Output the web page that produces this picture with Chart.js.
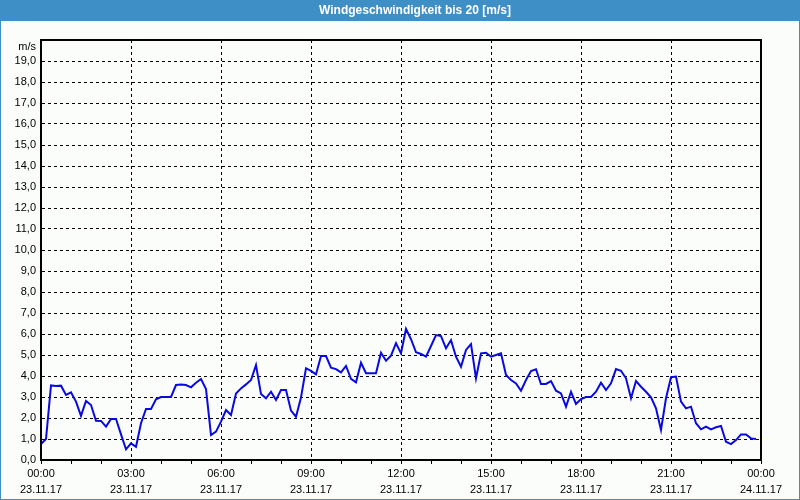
<!DOCTYPE html>
<html><head><meta charset="utf-8">
<script src="https://cdn.jsdelivr.net/npm/chart.js@4/dist/chart.umd.min.js"></script>
<style>html,body{margin:0;padding:0;background:#fbfdfb;}canvas{display:block;}</style>
</head><body>
<canvas id="c" width="800" height="500"></canvas>
<script>
const chartTitle = 'Windgeschwindigkeit bis 20 [m/s]';
const unitLabel = 'm/s';
const stepHours = 1 / 6; // 10-minute samples
const windSpeed = [
  0.76, 1.0, 3.55, 3.52, 3.54, 3.1, 3.22, 2.78, 2.1, 2.81,
  2.62, 1.87, 1.86, 1.59, 1.95, 1.95, 1.22, 0.51, 0.79, 0.63,
  1.75, 2.43, 2.43, 2.89, 3.0, 3.0, 3.0, 3.57, 3.6, 3.57,
  3.46, 3.68, 3.86, 3.38, 1.19, 1.35, 1.83, 2.38, 2.14, 3.17,
  3.41, 3.6, 3.81, 4.52, 3.14, 2.94, 3.25, 2.86, 3.33, 3.33,
  2.35, 2.06, 2.98, 4.37, 4.24, 4.08, 4.95, 4.95, 4.4, 4.33,
  4.17, 4.48, 3.86, 3.7, 4.63, 4.13, 4.13, 4.13, 5.11, 4.73,
  4.97, 5.56, 5.08, 6.24, 5.75, 5.13, 5.05, 4.92, 5.43, 5.95,
  5.9, 5.32, 5.71, 4.92, 4.44, 5.24, 5.52, 3.89, 5.08, 5.11,
  4.92, 5.0, 5.08, 4.05, 3.81, 3.65, 3.3, 3.81, 4.24, 4.32,
  3.62, 3.62, 3.76, 3.3, 3.17, 2.54, 3.25, 2.67, 2.9, 3.0,
  3.0, 3.25, 3.68, 3.33, 3.65, 4.33, 4.25, 3.89, 2.94, 3.76,
  3.49, 3.25, 2.98, 2.46, 1.43, 2.94, 3.94, 3.97, 2.78, 2.46,
  2.54, 1.75, 1.46, 1.59, 1.46, 1.56, 1.62, 0.87, 0.76, 0.95,
  1.22, 1.22, 1.03, 1.0
];
const xTickTimes = ['00:00','03:00','06:00','09:00','12:00','15:00','18:00','21:00','00:00'];
const xTickDates = ['23.11.17','23.11.17','23.11.17','23.11.17','23.11.17','23.11.17','23.11.17','23.11.17','24.11.17'];

const points = windSpeed.map((v, i) => ({x: i * stepHours, y: v}));
const FONT = 'Liberation Sans';

const frame = {
  id: 'frame',
  beforeDraw(chart) {
    const ctx = chart.ctx;
    ctx.save();
    ctx.fillStyle = '#fbfdfb';
    ctx.fillRect(0, 0, chart.width, chart.height);
    ctx.fillStyle = '#3d8fc6';
    ctx.fillRect(0, 0, chart.width, 21);
    ctx.strokeStyle = '#3d8fc6';
    ctx.lineWidth = 1;
    ctx.strokeRect(0.5, 0.5, chart.width - 1, chart.height - 1);
    ctx.fillStyle = '#ffffff';
    ctx.font = 'bold 12px ' + FONT;
    ctx.textAlign = 'center';
    ctx.textBaseline = 'middle';
    ctx.fillText(chartTitle, 415, 11);
    ctx.fillStyle = '#000';
    ctx.font = '11px ' + FONT;
    ctx.textAlign = 'right';
    ctx.fillText(unitLabel, chart.chartArea.left - 5, 47);
    ctx.restore();
  },
  afterDraw(chart) {
    const a = chart.chartArea, ctx = chart.ctx;
    ctx.save();
    ctx.strokeStyle = '#000';
    ctx.lineWidth = 2;
    ctx.strokeRect(Math.round(a.left), Math.round(a.top), Math.round(a.right - a.left), Math.round(a.bottom - a.top));
    ctx.restore();
  }
};

new Chart(document.getElementById('c'), {
  type: 'line',
  data: { datasets: [{
    data: points,
    borderColor: '#0a0ae0',
    borderWidth: 2,
    pointRadius: 0,
    tension: 0,
    fill: false
  }]},
  options: {
    responsive: false,
    animation: false,
    layout: { padding: { left: 0, top: 40, right: 39, bottom: 0 } },
    plugins: { legend: { display: false }, tooltip: { enabled: false }, title: { display: false } },
    scales: {
      x: {
        type: 'linear', min: 0, max: 24,
        afterFit(s) { s.height = 40; },
        ticks: {
          stepSize: 1, autoSkip: false, maxRotation: 0, padding: 2,
          color: '#000', font: { family: FONT, size: 11, lineHeight: 1.45 },
          callback: (v) => (v % 3 === 0) ? [xTickTimes[v / 3], xTickDates[v / 3]] : ''
        },
        grid: {
          color: (c) => (c.tick && c.tick.value % 3 === 0) ? '#000' : 'rgba(0,0,0,0)',
          tickColor: '#000', tickLength: 4, lineWidth: 1
        },
        border: { display: true, color: '#000', width: 1, dash: [3, 3] }
      },
      y: {
        min: 0, max: 20,
        afterFit(s) { s.width = 41; },
        ticks: {
          stepSize: 1, autoSkip: false, padding: 5,
          color: '#000', font: { family: FONT, size: 11 },
          callback: (v) => v === 20 ? '' : v.toFixed(1).replace('.', ',')
        },
        grid: { color: '#000', drawTicks: false, lineWidth: 1 },
        border: { display: true, color: '#000', width: 1, dash: [3, 3] }
      }
    }
  },
  plugins: [frame]
});
</script>
</body></html>
